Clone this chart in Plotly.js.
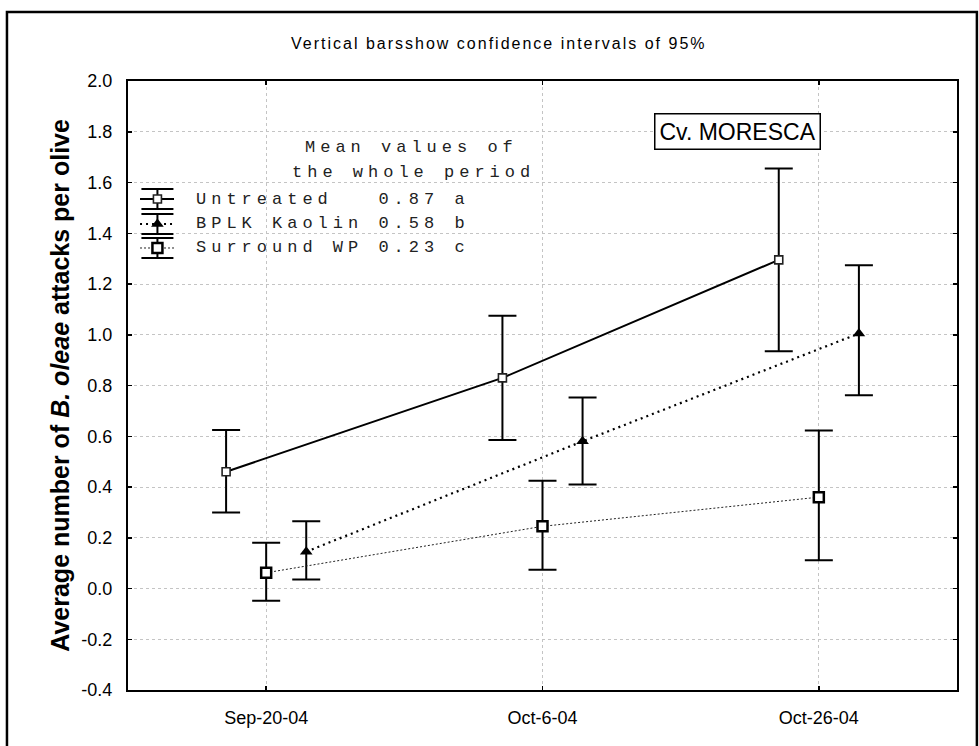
<!DOCTYPE html>
<html>
<head>
<meta charset="utf-8">
<script src="https://cdn.plot.ly/plotly-3.0.1.min.js"></script>
<style>html,body{margin:0;padding:0;background:#fff;}#chart{width:979px;height:746px;}</style>
</head>
<body>
<div id="chart"></div>
<script>
// ---- data ----
const categories = ['Sep-20-04', 'Oct-6-04', 'Oct-26-04'];
const seriesNames = ['Untreated', 'BPLK Kaolin', 'Surround WP'];
const periodMeans = ['0.87 a', '0.58 b', '0.23 c'];

const untreatedMean = [0.46, 0.83, 1.295];
const untreatedHi   = [0.625, 1.075, 1.655];
const untreatedLo   = [0.30, 0.585, 0.935];

const kaolinMean = [0.145, 0.58, 1.005];
const kaolinHi   = [0.265, 0.753, 1.274];
const kaolinLo   = [0.035, 0.41, 0.762];

const surroundMean = [0.062, 0.245, 0.36];
const surroundHi   = [0.18, 0.425, 0.623];
const surroundLo   = [-0.048, 0.074, 0.111];

const yTicks = [-0.4, -0.2, 0.0, 0.2, 0.4, 0.6, 0.8, 1.0, 1.2, 1.4, 1.6, 1.8, 2.0];
const yTickLabels = yTicks.map(v => v.toFixed(1));

// ---- helpers ----
const idx = categories.map((c, i) => i);
const shift = (d) => idx.map(i => i + d);
const up = (hi, m) => hi.map((v, i) => v - m[i]);
const dn = (lo, m) => lo.map((v, i) => m[i] - v);

function errY(hi, lo, m) {
  return {type: 'data', symmetric: false, array: up(hi, m), arrayminus: dn(lo, m),
          color: '#000', thickness: 2, width: 14};
}

const OFF = 0.145;
const styleU = {line: {color: '#000', width: 2},
  marker: {symbol: 'square', size: 8, color: '#fff', line: {color: '#222', width: 1.6}}};
const styleK = {line: {color: '#000', width: 2.2, dash: '2px,4px'},
  marker: {symbol: 'triangle-up', size: 11, color: '#000'}};
const styleS = {line: {color: '#222', width: 1, dash: '2px,2px'},
  marker: {symbol: 'square', size: 10, color: '#fff', line: {color: '#000', width: 2.5}}};

const traces = [
  {x: shift(-OFF), y: untreatedMean, type: 'scatter', mode: 'lines+markers',
   line: styleU.line, marker: styleU.marker,
   error_y: errY(untreatedHi, untreatedLo, untreatedMean), showlegend: false},
  {x: shift(OFF), y: kaolinMean, type: 'scatter', mode: 'lines+markers',
   line: styleK.line, marker: styleK.marker,
   error_y: errY(kaolinHi, kaolinLo, kaolinMean), showlegend: false},
  {x: shift(0), y: surroundMean, type: 'scatter', mode: 'lines+markers',
   line: styleS.line, marker: styleS.marker,
   error_y: errY(surroundHi, surroundLo, surroundMean), showlegend: false}
];

// ---- legend icons drawn on overlay axes (0..1 over the plot area) ----
const iconX = 0.0355, iconL = 0.0145, iconR = 0.0555;
const rowY = [0.8062, 0.7652, 0.7258];
[styleU, styleK, styleS].forEach((s, i) => {
  traces.push({x: [iconL, iconR], y: [rowY[i], rowY[i]], xaxis: 'x2', yaxis: 'y2',
    type: 'scatter', mode: 'lines', line: s.line, showlegend: false, hoverinfo: 'skip'});
  traces.push({x: [iconX], y: [rowY[i]], xaxis: 'x2', yaxis: 'y2',
    type: 'scatter', mode: 'markers', marker: s.marker, showlegend: false, hoverinfo: 'skip',
    error_y: {type: 'constant', value: 0.0165, color: '#000', thickness: 2, width: 16}});
});

const LS = 'letter-spacing:5px';
const monoFont = {family: 'Liberation Mono, Courier New, monospace', size: 17, color: '#222'};
const legendLines = [
  seriesNames[0] + '\u00a0\u00a0\u00a0' + periodMeans[0],
  seriesNames[1] + '\u00a0' + periodMeans[1],
  seriesNames[2] + '\u00a0' + periodMeans[2]
];

const annotations = [
  {text: '<span style="letter-spacing:2px">Vertical barsshow confidence intervals of 95%</span>',
   xref: 'paper', yref: 'paper',
   x: 0.448, y: 1.062, xanchor: 'center', yanchor: 'middle', showarrow: false,
   font: {family: 'Liberation Sans, Arial', size: 16, color: '#000'}},
  {text: '<b>Average number of <i>B. oleae</i> attacks per olive</b>', xref: 'paper', yref: 'paper',
   x: -0.083, y: 0.5, xanchor: 'center', yanchor: 'middle', textangle: -90, showarrow: false,
   font: {family: 'Liberation Sans, Arial', size: 25, color: '#000'}},
  {text: 'Cv. MORESCA', xref: 'paper', yref: 'paper', x: 0.7352, y: 0.9163,
   xanchor: 'center', yanchor: 'middle', showarrow: false, bgcolor: '#fff',
   bordercolor: '#000', borderwidth: 1.5, borderpad: 4,
   font: {family: 'Liberation Sans, Arial', size: 23, color: '#000'}},
  {text: '<span style="' + LS + '">Mean values of</span>', xref: 'paper', yref: 'paper',
   x: 0.2111, y: 0.890, xanchor: 'left', yanchor: 'middle', showarrow: false, font: monoFont},
  {text: '<span style="' + LS + '">the whole period</span>', xref: 'paper', yref: 'paper',
   x: 0.1954, y: 0.849, xanchor: 'left', yanchor: 'middle', showarrow: false, font: monoFont}
];
legendLines.forEach((t, i) => {
  annotations.push({text: '<span style="' + LS + '">' + t + '</span>', xref: 'paper', yref: 'paper',
    x: 0.0796, y: rowY[i], xanchor: 'left', yanchor: 'middle', showarrow: false, font: monoFont});
});

const layout = {
  width: 979, height: 746,
  margin: {l: 128, r: 22, t: 81, b: 56},
  paper_bgcolor: '#fff', plot_bgcolor: '#fff',
  showlegend: false,
  xaxis: {range: [-0.5, 2.5], tickvals: idx, ticktext: categories,
    showgrid: true, gridcolor: '#c4c4c4', griddash: 'dot', gridwidth: 1,
    zeroline: false, showline: true, linecolor: '#000', linewidth: 2, mirror: 'ticks',
    ticks: 'inside', ticklen: 4, tickwidth: 1.5, tickcolor: '#000', ticklabelstandoff: 10,
    tickfont: {family: 'Liberation Sans, Arial', size: 18, color: '#000'},
    fixedrange: true},
  yaxis: {range: [-0.4, 2.0], tickvals: yTicks, ticktext: yTickLabels,
    showgrid: true, gridcolor: '#c4c4c4', griddash: 'dot', gridwidth: 1,
    zeroline: false, showline: true, linecolor: '#000', linewidth: 2, mirror: 'ticks',
    ticks: 'inside', ticklen: 4, tickwidth: 1.5, tickcolor: '#000', ticklabelstandoff: 10,
    tickfont: {family: 'Liberation Sans, Arial', size: 18, color: '#000'},
    fixedrange: true},
  xaxis2: {overlaying: 'x', range: [0, 1], visible: false, fixedrange: true},
  yaxis2: {overlaying: 'y', range: [0, 1], visible: false, fixedrange: true},
  annotations: annotations,
  shapes: [
    {type: 'rect', xref: 'paper', yref: 'paper', x0: -0.146, x1: 1.024, y0: -0.1, y1: 1.1135,
     line: {color: '#000', width: 2.5}, fillcolor: 'rgba(0,0,0,0)', layer: 'above'}
  ]
};

Plotly.newPlot('chart', traces, layout, {staticPlot: true, displayModeBar: false});
</script>
</body>
</html>
